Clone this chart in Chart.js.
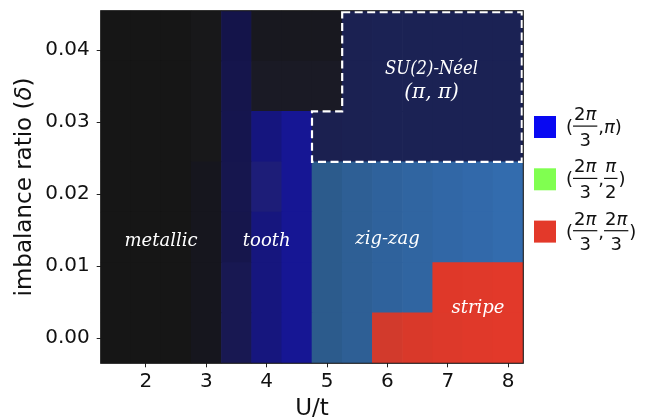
<!DOCTYPE html>
<html>
<head>
<meta charset="utf-8">
<script src="https://cdn.jsdelivr.net/npm/chart.js@4.4.1/dist/chart.umd.min.js"></script>
<style>
  html, body { margin: 0; padding: 0; background: #fff; }
  #wrap { width: 657px; height: 418px; position: relative; }
</style>
</head>
<body>
<div id="wrap"><canvas id="phase"></canvas></div>
<script>
// --- DATA ---
const uValues = [1.5, 2, 2.5, 3, 3.5, 4, 4.5, 5, 5.5, 6, 6.5, 7, 7.5, 8];
const deltaValues = [0, 0.007, 0.014, 0.021, 0.028, 0.035, 0.042];
const uStep = 0.5;
const deltaStep = 0.007;
const uTicks = [2, 3, 4, 5, 6, 7, 8];
const deltaTicks = [0, 0.01, 0.02, 0.03, 0.04];

// colour of each cell, one row per delta (bottom row first)
const K = '#161616';
const N = '#1b2254';
const cellColors = [
  [K, K, K, '#16161e', '#181852', '#16167e', '#161694', '#2c5b8c', '#2e5f95', '#d23a2c', '#d9392a', '#dd392a', '#e0392a', '#e2392a'],
  [K, K, K, '#16161e', '#181852', '#16167e', '#161694', '#2c5b8c', '#2e5f95', '#2f629c', '#3065a1', '#df3829', '#e0392a', '#e2392a'],
  [K, K, K, '#16161e', '#16164c', '#16167e', '#161694', '#2c5b8c', '#2e5f95', '#2f629c', '#3065a1', '#3167a6', '#3269aa', '#336cae'],
  [K, K, K, '#16161e', '#16164e', '#1d1d78', '#161694', '#2c5b8c', '#2e5f95', '#2f629c', '#3065a1', '#3167a6', '#3269aa', '#336cae'],
  [K, K, K, '#18181a', '#15154e', '#15157e', '#161694', '#1b2050', '#1b2152', N, N, N, N, N],
  [K, K, K, '#18181a', '#15154c', '#1a1a25', '#1a1a25', '#1a1a25', '#1b2152', N, N, N, N, N],
  [K, K, K, '#18181a', '#14144a', '#18181f', '#18181f', '#18181f', '#1b2152', N, N, N, N, N]
];

// phase labels inside the map
const regionText = ['metallic', 'tooth', 'zig-zag', 'stripe', 'SU(2)-Néel', '(π, π)'];
const regionU = [2.25, 4.0, 6.0, 7.5, 6.73, 6.73];
const regionDelta = [0.0135, 0.0135, 0.0137, 0.0042, 0.0373, 0.0341];

// dashed outline of the Neel region
const neelU = [5.25, 8.25, 8.25, 4.75, 4.75, 5.25];
const neelDelta = [0.0455, 0.0455, 0.0245, 0.0245, 0.0315, 0.0315];

// legend
const legendColors = ['#0808f2', '#80ff50', '#e3392a'];
const legendLabels = [
  ['(', {num: '2π', den: '3'}, ',', 'π', ')'],
  ['(', {num: '2π', den: '3'}, ',', {num: 'π', den: '2'}, ')'],
  ['(', {num: '2π', den: '3'}, ',', {num: '2π', den: '3'}, ')']
];

// --- CHART ---
const datasets = deltaValues.map((d, i) => ({
  type: 'bar',
  data: uValues.map(u => ({ x: u, y: [d - deltaStep / 2, d + deltaStep / 2] })),
  backgroundColor: cellColors[i],
  borderWidth: 0,
  grouped: false,
  categoryPercentage: 1,
  barPercentage: 1
}));

function pieceFont(ch, size) {
  return (ch === 'π' || ch === 'δ' ? 'italic ' : '') + size + 'px "DejaVu Sans"';
}
function mixedWidth(ctx, s, size) {
  let w = 0;
  for (const ch of s) { ctx.font = pieceFont(ch, size); w += ctx.measureText(ch).width; }
  return w;
}
function drawMixed(ctx, s, x, y, size) {
  for (const ch of s) {
    ctx.font = pieceFont(ch, size);
    ctx.fillText(ch, x, y);
    x += ctx.measureText(ch).width;
  }
}

function drawMathLabel(ctx, pieces, x, line) {
  const size = 18;
  ctx.textBaseline = 'alphabetic';
  ctx.textAlign = 'left';
  ctx.fillStyle = '#111';
  let cx = x;
  pieces.forEach(p => {
    if (typeof p === 'string') {
      drawMixed(ctx, p, cx, line + 7, size);
      cx += mixedWidth(ctx, p, size);
    } else {
      const wn = mixedWidth(ctx, p.num, size);
      const wd = mixedWidth(ctx, p.den, size);
      const w = Math.max(wn, wd) + 2;
      drawMixed(ctx, p.num, cx + (w - wn) / 2, line - 6, size);
      drawMixed(ctx, p.den, cx + (w - wd) / 2, line + 19.5, size);
      ctx.fillRect(cx, line - 0.5, w, 1.2);
      cx += w + 1;
    }
  });
}

const overlay = {
  id: 'overlay',
  afterDatasetsDraw(chart) {
    const {ctx, chartArea: a, scales: {x, y}} = chart;
    ctx.save();
    ctx.beginPath();
    ctx.rect(a.left, a.top, a.right - a.left, a.bottom - a.top);
    ctx.clip();
    // dashed Neel outline
    ctx.strokeStyle = '#fff';
    ctx.lineWidth = 2.2;
    ctx.setLineDash([8, 4.5]);
    ctx.beginPath();
    neelU.forEach((u, i) => {
      const px = x.getPixelForValue(u), py = y.getPixelForValue(neelDelta[i]);
      const ix = Math.min(Math.max(px, a.left + 1.5), a.right - 1.5);
      const iy = Math.min(Math.max(py, a.top + 1.5), a.bottom - 1.5);
      if (i === 0) ctx.moveTo(ix, iy); else ctx.lineTo(ix, iy);
    });
    ctx.closePath();
    ctx.stroke();
    ctx.setLineDash([]);
    // phase names
    ctx.fillStyle = '#fff';
    ctx.textAlign = 'center';
    ctx.textBaseline = 'middle';
    regionText.forEach((t, i) => {
      const px = x.getPixelForValue(regionU[i]), py = y.getPixelForValue(regionDelta[i]);
      if (t.startsWith('SU')) {
        ctx.font = 'italic 18px "DejaVu Serif"';
        ctx.fillText(t, px, py, 93);
      } else if (t.startsWith('(')) {
        ctx.font = 'italic 20px "DejaVu Serif"';
        ctx.fillText(t, px, py);
      } else {
        ctx.font = 'italic 18px "DejaVu Serif"';
        ctx.fillText(t, px, py);
      }
    });
    ctx.restore();
    // frame
    ctx.save();
    ctx.strokeStyle = '#1a1a1a';
    ctx.lineWidth = 1.1;
    ctx.strokeRect(a.left, a.top, a.right - a.left, a.bottom - a.top);
    ctx.restore();
  },
  afterDraw(chart) {
    const {ctx, chartArea: a} = chart;
    ctx.save();
    // axis titles
    ctx.fillStyle = '#111';
    ctx.textBaseline = 'alphabetic';
    ctx.textAlign = 'left';
    ctx.font = '23px "DejaVu Sans"';
    const xt = 'U/t';
    const xw = ctx.measureText(xt).width;
    ctx.fillText(xt, (a.left + a.right) / 2 - xw / 2, 415);

    const yt = 'imbalance ratio (δ)';
    const yw = mixedWidth(ctx, yt, 23);
    ctx.save();
    ctx.translate(31, (a.top + a.bottom) / 2);
    ctx.rotate(-Math.PI / 2);
    drawMixed(ctx, yt, -yw / 2, 0, 23);
    ctx.restore();

    // legend
    legendColors.forEach((c, i) => {
      const cy = 127 + i * 52.3;
      ctx.fillStyle = c;
      ctx.fillRect(534, cy - 11, 22, 22);
      drawMathLabel(ctx, legendLabels[i], 566, cy - 1);
    });
    ctx.restore();
  }
};

const tickFont = { family: 'DejaVu Sans', size: 20 };

new Chart(document.getElementById('phase'), {
  type: 'bar',
  data: { datasets },
  options: {
    responsive: true,
    maintainAspectRatio: false,
    animation: false,
    events: [],
    layout: { padding: { top: 10.7, right: 133.7, left: 0, bottom: 0 } },
    plugins: { legend: { display: false }, tooltip: { enabled: false } },
    scales: {
      x: {
        type: 'linear', min: 1.25, max: 8.25, offset: false,
        afterBuildTicks: s => { s.ticks = uTicks.map(v => ({ value: v })); },
        afterFit: s => { s.height = 54.7; s.paddingLeft = 0; s.paddingRight = 0; },
        grid: { offset: false, drawOnChartArea: false, drawTicks: true, tickLength: 4, tickColor: '#222' },
        border: { display: false },
        ticks: { font: tickFont, color: '#111', padding: 2, maxRotation: 0, callback: v => v }
      },
      y: {
        type: 'linear', min: -0.0035, max: 0.0455,
        afterBuildTicks: s => { s.ticks = deltaTicks.map(v => ({ value: v })); },
        afterFit: s => { s.width = 100.7; s.paddingTop = 0; s.paddingBottom = 0; },
        grid: { drawOnChartArea: false, drawTicks: true, tickLength: 4, tickColor: '#222' },
        border: { display: false },
        ticks: { font: tickFont, color: '#111', padding: 7, callback: v => v.toFixed(2) }
      }
    }
  },
  plugins: [overlay]
});
</script>
</body>
</html>
